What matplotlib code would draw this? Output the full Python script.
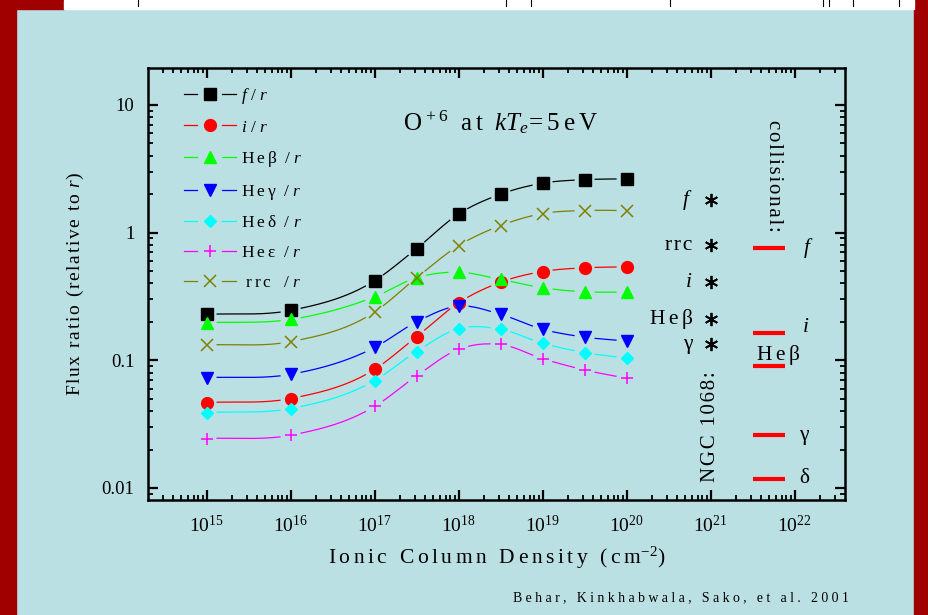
import numpy as np
import matplotlib
matplotlib.use('Agg')
import matplotlib.pyplot as plt
from matplotlib.lines import Line2D
from matplotlib.patches import Rectangle
from matplotlib.legend_handler import HandlerBase
from matplotlib.ticker import LogLocator, NullFormatter

plt.rcParams['font.family'] = ['Liberation Serif', 'DejaVu Serif']
plt.rcParams['mathtext.fontset'] = 'custom'
plt.rcParams['mathtext.rm'] = 'Liberation Serif'
plt.rcParams['mathtext.it'] = 'Liberation Serif:italic'
plt.rcParams['mathtext.bf'] = 'Liberation Serif:bold'

BG = '#bbe0e3'
DARKRED = '#a00000'
HS = '\u200a'  # hair space, used for the wide letter spacing of the slide


def track(s, n=1):
    return (HS * n).join(s)


# ionic column density (cm^-2)
N = [1e15, 1e16, 1e17, 3.16e17, 1e18, 3.16e18, 1e19, 3.16e19, 1e20]

# flux ratios relative to r
f_r = [0.229, 0.246, 0.42, 0.75, 1.40, 2.0, 2.44, 2.6, 2.64]
i_r = [0.0467, 0.0502, 0.085, 0.153, 0.282, 0.409, 0.496, 0.530, 0.540]
hebeta_r = [0.197, 0.209, 0.314, 0.443, 0.49, 0.43, 0.37, 0.344, 0.342]
hegamma_r = [0.0732, 0.0777, 0.126, 0.200, 0.266, 0.229, 0.175, 0.152, 0.1415]
hedelta_r = [0.039, 0.0419, 0.0694, 0.117, 0.177, 0.175, 0.136, 0.115, 0.104]
heeps_r = [0.0244, 0.0259, 0.0435, 0.0754, 0.122, 0.133, 0.103, 0.084, 0.0723]
rrc_r = [0.132, 0.140, 0.239, 0.443, 0.791, 1.135, 1.41, 1.49, 1.49]

# NGC 1068 measured ratios (drawn at 1e21)
ngc_N = 1e21
ngc_labels = ['$f$', track('rrc'), '$i$', track('Heβ', 2), 'γ']
ngc_vals = [1.81, 0.80, 0.41, 0.212, 0.133]

# collisional values
coll_N = [3.2e21, 7.7e21]
coll_labels = ['$f$', '$i$', track('Heβ', 2), 'γ', 'δ']
coll_vals = [0.759, 0.164, 0.0902, 0.0259, 0.0118]

series = [
    (f_r, '$f$ / $r$', '#000000', 's', 8),
    (i_r, '$i$ / $r$', '#ff0000', 'o', 8.5),
    (hebeta_r, track('Heβ', 2) + '  / $r$', '#00ff00', '^', 9),
    (hegamma_r, track('Heγ', 2) + '  / $r$', '#0000ff', 'v', 9),
    (hedelta_r, track('Heδ', 2) + '  / $r$', '#00ffff', 'D', 6.3),
    (heeps_r, track('Heε', 2) + '  / $r$', '#ff00ff', '+', 8.5),
    (rrc_r, ' ' + track('rrc', 2) + '   / $r$', '#808000', 'x', 8),
]


def smooth(x, y, n=120):
    # cubic hermite through the points in log-log space
    lx, ly = np.log10(x), np.log10(y)
    d = np.gradient(ly, lx)
    t = np.linspace(0, 1, n)
    h00 = 2*t**3 - 3*t**2 + 1
    h10 = t**3 - 2*t**2 + t
    h01 = -2*t**3 + 3*t**2
    h11 = t**3 - t**2
    xs, ys = [], []
    for k in range(len(lx) - 1):
        h = lx[k+1] - lx[k]
        xs.append(lx[k] + t*h)
        ys.append(h00*ly[k] + h10*h*d[k] + h01*ly[k+1] + h11*h*d[k+1])
    return 10**np.concatenate(xs), 10**np.concatenate(ys)


def cut_near_markers(ax, x, y, xs, ys, r=10.5):
    pts = ax.transData.transform(np.column_stack([xs, ys]))
    mk = ax.transData.transform(np.column_stack([x, y]))
    dist = np.hypot(pts[:, None, 0] - mk[None, :, 0], pts[:, None, 1] - mk[None, :, 1]).min(axis=1)
    return np.where(dist < r, np.nan, ys)


class GapLine(HandlerBase):
    def create_artists(self, legend, orig, xdescent, ydescent, width, height, fontsize, trans):
        y = (height - ydescent) / 2
        x0, x1 = -xdescent, -xdescent + width
        xm = (x0 + x1) / 2
        g = 0.24 * width
        a = Line2D([x0, xm - g], [y, y], color=orig.get_color(), lw=orig.get_linewidth())
        b = Line2D([xm + g, x1], [y, y], color=orig.get_color(), lw=orig.get_linewidth())
        m = Line2D([xm], [y], ls='none', marker=orig.get_marker(), ms=orig.get_markersize(),
                   color=orig.get_color(), mew=orig.get_markeredgewidth())
        for art in (a, b, m):
            art.set_transform(trans)
        return [a, b, m]


fig = plt.figure(figsize=(9.29, 6.15), dpi=100, facecolor=BG)
ax = fig.add_axes([0.1596, 0.187, 0.75, 0.703])
ax.set_facecolor(BG)
ax.set_xscale('log')
ax.set_yscale('log')
ax.set_xlim(10**14.306, 10**22.6)
ax.set_ylim(0.00805, 19.6)

handles = []
for vals, lab, col, mk, ms in series:
    xs, ys = smooth(N, vals)
    ys = cut_near_markers(ax, N, vals, xs, ys)
    ax.plot(xs, ys, color=col, lw=0.9)
    mew = 1.1 if mk in ('+', 'x') else 1
    ax.plot(N, vals, ls='none', marker=mk, ms=ms, color=col, mew=mew)
    handles.append(Line2D([], [], color=col, lw=0.9, marker=mk, ms=ms, mew=mew, label=lab))

ax.legend(handles=handles, handler_map={Line2D: GapLine()}, loc='upper left',
          bbox_to_anchor=(0.051, 0.958), frameon=False, fontsize=12.5, handlelength=3.0,
          handletextpad=0.3, labelspacing=0.78, borderpad=0, borderaxespad=0)

# NGC 1068 observed
ax.plot([ngc_N] * len(ngc_vals), ngc_vals, ls='none', marker=(6, 2, 0), ms=9.5, color='k', mew=1.3)
for v, s in zip(ngc_vals, ngc_labels):
    ax.annotate(s, (ngc_N, v), xytext=(-13, 0), textcoords='offset points',
                ha='right', va='center', fontsize=15.5)
ax.text(ngc_N, 0.042, track('NGC 1068:'), transform=ax.get_xaxis_transform(),
        rotation=90, ha='center', va='bottom', fontsize=15)

# collisional
ax.hlines(coll_vals, coll_N[0], coll_N[1], color='#ff0000', lw=3)
coll_offsets = [(13, 0), (12, 4), (-20, 8), (10, 0), (10, 0)]
for v, s, (dx, dy) in zip(coll_vals, coll_labels, coll_offsets):
    ax.annotate(s, (coll_N[1], v), xytext=(dx, dy), textcoords='offset points',
                ha='left', va='center', fontsize=15.5)
ax.text(10**21.75, 0.88, track('collisional:'), transform=ax.get_xaxis_transform(),
        rotation=-90, ha='center', va='top', fontsize=15)

title = 'O' + r'$^{\,+6}$' + '  ' + track('at', 2) + '  ' + '$kT_{e}$' + track('=5eV', 2)
ax.text(0.505, 0.874, title, transform=ax.transAxes, ha='center', va='center', fontsize=18)

# axes styling
ax.set_xticks([1e15, 1e16, 1e17, 1e18, 1e19, 1e20, 1e21, 1e22])
ax.set_xticklabels(['$10^{%d}$' % k for k in range(15, 23)])
ax.xaxis.set_minor_locator(LogLocator(base=10, subs=np.arange(2, 10), numticks=20))
ax.xaxis.set_minor_formatter(NullFormatter())
ax.set_yticks([0.01, 0.1, 1, 10])
ax.set_yticklabels(['0.01', '0.1', '1', '10'])
ax.yaxis.set_minor_locator(LogLocator(base=10, subs=np.arange(2, 10), numticks=20))
ax.yaxis.set_minor_formatter(NullFormatter())
ax.tick_params(which='both', direction='in', top=True, right=True, colors='k')
ax.tick_params(which='major', length=7.5, width=1.6, labelsize=13.5, pad=10)
ax.tick_params(which='minor', length=3.8, width=1.3)
ax.tick_params(axis='x', which='major', labelsize=14, pad=11)
for sp in ax.spines.values():
    sp.set_linewidth(1.8)

ax.set_xlabel(track('Ionic Column Density (cm', 2) + '$^{-2}$)', fontsize=15.5, labelpad=6)
ax.set_ylabel(track('Flux ratio (relative to ') + '$r$)', fontsize=14, labelpad=11)

# slide frame
fig.patches.append(Rectangle((0, 0), 16/929, 1, transform=fig.transFigure, color=DARKRED, zorder=-1))
fig.patches.append(Rectangle((914/929, 0), 15/929, 1, transform=fig.transFigure, color=DARKRED, zorder=-1))
fig.patches.append(Rectangle((0, 1 - 9/615), 64/929, 9/615, transform=fig.transFigure, color=DARKRED, zorder=-1))
fig.patches.append(Rectangle((64/929, 1 - 9/615), 850/929, 9/615, transform=fig.transFigure, color='white', zorder=-1))
for px in [138, 506, 531, 670, 823, 829, 853, 899]:
    fig.add_artist(Line2D([px/929, px/929], [1 - 6/615, 1], transform=fig.transFigure, color='k', lw=0.8))

fig.text(849/929, 1 - 598/615, track('Behar, Kinkhabwala, Sako, et al. 2001', 3),
         ha='right', va='center', fontsize=10)

fig.savefig('out.png', dpi=100, facecolor=BG)
